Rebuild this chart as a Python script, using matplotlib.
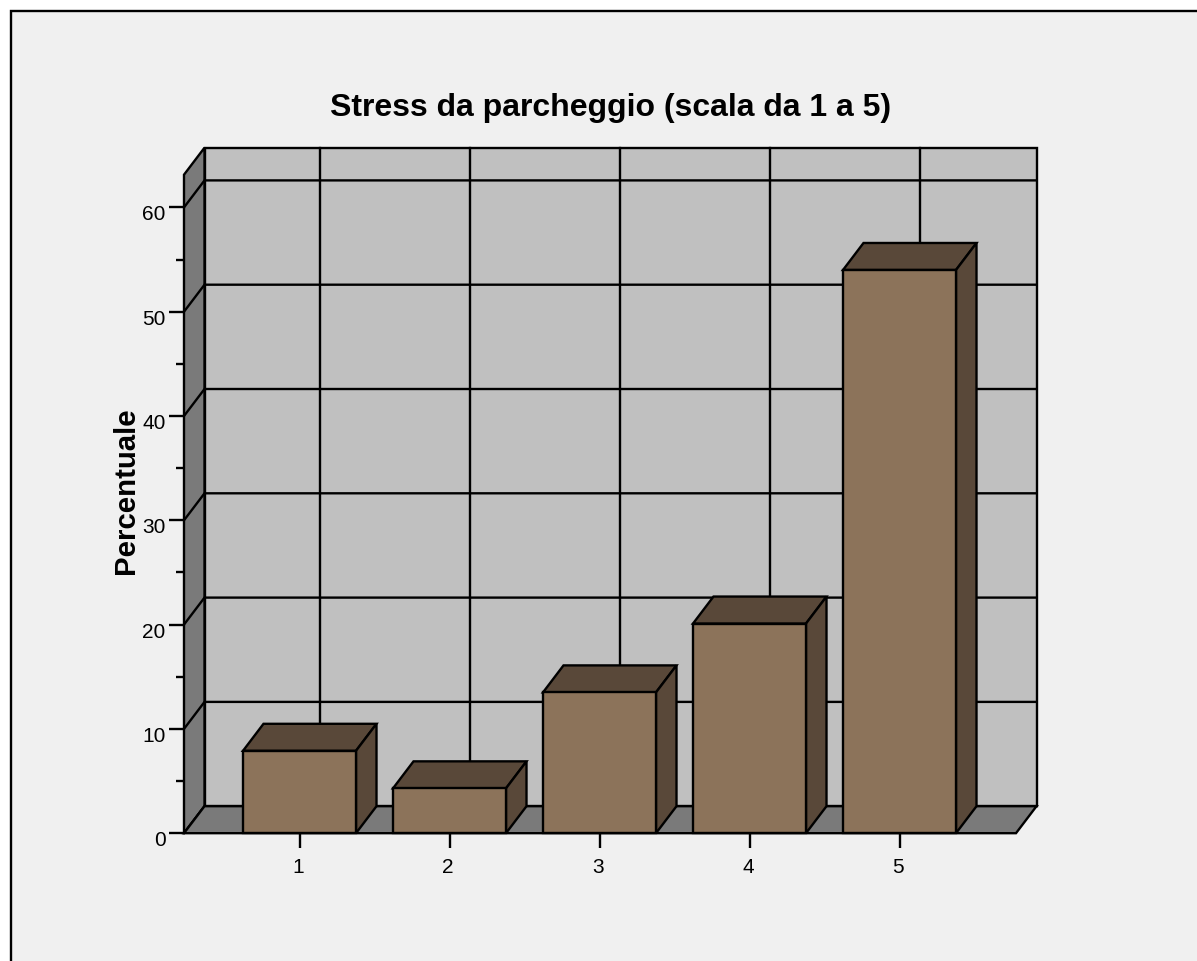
import matplotlib
matplotlib.use('Agg')
import matplotlib.pyplot as plt
from matplotlib.patches import Polygon, Rectangle
from matplotlib.transforms import ScaledTranslation

# data
categorie = [1, 2, 3, 4, 5]
percentuali = [7.9, 4.3, 13.5, 20.1, 54.0]
y_major = [0, 10, 20, 30, 40, 50, 60]
y_minor = [5, 15, 25, 35, 45, 55]

W, H = 1197, 962
plt.rcParams['font.family'] = ['Liberation Sans', 'DejaVu Sans']
LW = 1.7

fig = plt.figure(figsize=(W / 100, H / 100), dpi=100, facecolor='white')

# outer frame runs off the right and bottom edges
fig.add_artist(Rectangle((10.5 / W, -0.05), 1.1, 1.05 - 12 / H, transform=fig.transFigure,
                         facecolor='#f0f0f0', edgecolor='black', linewidth=LW, zorder=-1))

# axes sit on the front plane of the 3d box
left, right, bottom, top = 184, 1016, 834.2, 175.7
ax = fig.add_axes([left / W, 1 - bottom / H, (right - left) / W, (bottom - top) / H])
ax.patch.set_visible(False)
for s in ax.spines.values():
    s.set_visible(False)

px_x = 150.0
px_y = 10.43
ax.set_xlim(1 + (left - 299.5) / px_x, 1 + (right - 299.5) / px_x)
ax.set_ylim(0, (bottom - top) / px_y)
xmin, xmax = ax.get_xlim()
ymax = ax.get_ylim()[1]

# depth of the box in data units
dx = 20.5 / px_x
dy = 27 / px_y
bar_w = 113 / px_x


def poly(pts, color, z):
    ax.add_patch(Polygon(pts, closed=True, facecolor=color, edgecolor='black', linewidth=LW,
                         joinstyle='miter', clip_on=False, zorder=z))


# back wall, left wall, floor
poly([(xmin + dx, dy), (xmax + dx, dy), (xmax + dx, ymax + dy), (xmin + dx, ymax + dy)], '#c0c0c0', 1)
poly([(xmin, 0), (xmin + dx, dy), (xmin + dx, ymax + dy), (xmin, ymax)], '#7a7a7a', 1)

# grid on the walls
for v in y_major:
    ax.plot([xmin, xmin + dx, xmax + dx], [v, v + dy, v + dy], color='black', lw=LW, zorder=2,
            clip_on=False, solid_joinstyle='miter')
for c in categorie:
    ax.plot([c + dx, c + dx], [dy, ymax + dy], color='black', lw=LW, zorder=2, clip_on=False)

poly([(xmin, 0), (xmax, 0), (xmax + dx, dy), (xmin + dx, dy)], '#7a7a7a', 3)

# bars, front face through ax.bar, top and side from the same values
for i, (c, v) in enumerate(zip(categorie, percentuali)):
    z = 4 + i
    x0, x1 = c - bar_w / 2, c + bar_w / 2
    poly([(x0, v), (x1, v), (x1 + dx, v + dy), (x0 + dx, v + dy)], '#594839', z)
    poly([(x1, 0), (x1 + dx, dy), (x1 + dx, v + dy), (x1, v)], '#594839', z)
    ax.bar(c, v, width=bar_w, color='#8c735a', edgecolor='black', linewidth=LW, zorder=z,
           clip_on=False)

ax.set_xticks(categorie)
ax.set_yticks(y_major)
ax.set_yticks(y_minor, minor=True)
ax.tick_params(axis='x', which='major', length=10.8, width=LW, labelsize=15, pad=6, color='black')
ax.tick_params(axis='y', which='major', length=10.8, width=LW, labelsize=15, pad=2.5, color='black')
ax.tick_params(axis='y', which='minor', length=5.8, width=LW, color='black')

# tick labels sit a little off the ticks in the original
for lab in ax.get_yticklabels():
    lab.set_transform(lab.get_transform() + ScaledTranslation(0, -4.5 / 100, fig.dpi_scale_trans))
for lab in ax.get_xticklabels():
    lab.set_transform(lab.get_transform() + ScaledTranslation(-1.5 / 100, 0, fig.dpi_scale_trans))

fig.text(611 / W, 1 - 116 / H, 'Stress da parcheggio (scala da 1 a 5)', fontsize=23,
         fontweight='bold', ha='center', va='baseline')
fig.text(126 / W, 1 - 491 / H, 'Percentuale', fontsize=21.2, fontweight='bold', rotation=90,
         ha='center', va='center')

fig.savefig('out.png', dpi=100, facecolor='white')
